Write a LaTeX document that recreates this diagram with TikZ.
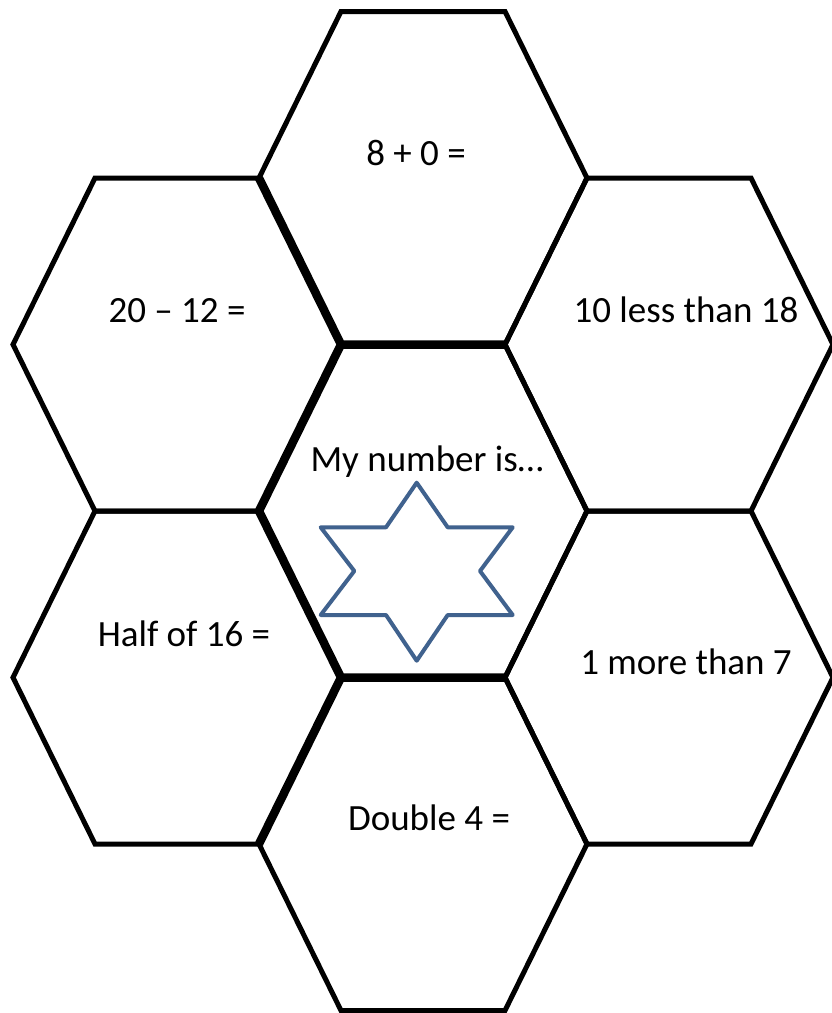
\documentclass[tikz,border=0pt]{standalone}
\usepackage{fontspec}
\setmainfont{Carlito}
\definecolor{starblue}{RGB}{64,98,142}
\newcommand\hexat[2]{%
  \draw[hexline] ({#1-164},{#2}) -- ({#1-82},{#2-166.5}) -- ({#1+82},{#2-166.5})
    -- ({#1+164},{#2}) -- ({#1+82},{#2+166.5}) -- ({#1-82},{#2+166.5}) -- cycle;}
\begin{document}
\begin{tikzpicture}[x=1pt,y=-1pt,
  hexline/.style={line width=5pt,line join=miter,black},
  thickline/.style={line width=8.5pt,line join=miter,line cap=butt,black},
  lbl/.style={anchor=base,inner sep=0pt,font=\fontsize{37}{44}\selectfont}]
\useasboundingbox (0,0) rectangle (832,1013);
\fill[white] (0,0) rectangle (832,1013);
% hexagons
\hexat{423}{178}
\hexat{177}{344.5}
\hexat{669}{344.5}
\hexat{423}{511}
\hexat{177}{677.5}
\hexat{669}{677.5}
\hexat{423}{844}
% thick edges
\draw[thickline] (259,178) -- (341,344.5) -- (505,344.5);
\draw[thickline] (341,344.5) -- (259,511) -- (341,677.5) -- (505,677.5);
\draw[thickline] (341,677.5) -- (259,844);
% star
\draw[starblue,line width=4pt,line join=round] (416.7,482.7) -- (447.7,527.3) -- (512.7,527.3)
  -- (480,571) -- (512.7,615) -- (447.7,615) -- (416.7,660.7) -- (386,615)
  -- (320.7,615) -- (354.3,571) -- (320.7,527.3) -- (386,527.3) -- cycle;
% labels
\node[lbl] (t1) at (416,165) {8 + 0 =};
\node[lbl] (t2) at (177,322) {20 – 12 =};
\node[lbl] (t3) at (686,322) {10 less than 18};
\node[lbl] (t4) at (427,471) {My number is…};
\node[lbl] (t5) at (184,646) {Half of 16 =};
\node[lbl] (t6) at (686,674) {1 more than 7};
\node[lbl] (t7) at (429,830) {Double 4 =};
\end{tikzpicture}
\end{document}
